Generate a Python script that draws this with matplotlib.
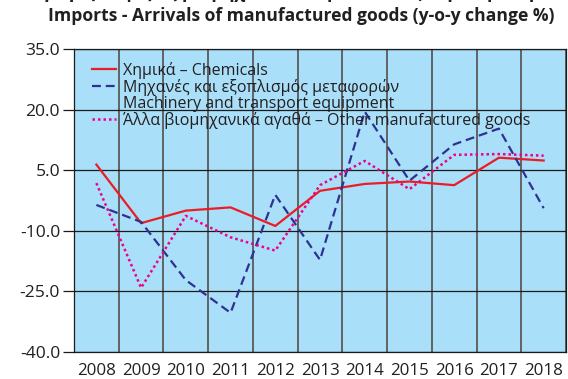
import matplotlib
matplotlib.use("Agg")
import matplotlib.pyplot as plt
from matplotlib.lines import Line2D

plt.rcParams["font.family"] = ["Open Sans", "DejaVu Sans"]

# ── data ───────────────────────────────────────────────────────────────────
years = ["2008", "2009", "2010", "2011", "2012", "2013",
         "2014", "2015", "2016", "2017", "2018"]
chemicals = [6.4, -8.1, -5.0, -4.2, -8.8, -0.1, 1.6, 2.2, 1.3, 8.1, 7.4]
machinery = [-3.6, -7.8, -22.2, -30.3, -1.1, -17.2, 19.5, 2.4, 11.4, 15.3, -4.4]
other_goods = [1.8, -24.1, -6.3, -11.6, -14.9, 1.3, 7.3, 0.3, 8.8, 9.0, 8.6]

y_ticks = [-40.0, -25.0, -10.0, 5.0, 20.0, 35.0]

RED = "#ED1C24"
NAVY = "#2E3192"
MAGENTA = "#EC008C"
BG = "#A9DFF9"
INK = "#231f20"

fig = plt.figure(figsize=(5.68, 3.79), dpi=100)
ax = fig.add_axes([0.1303, 0.0712, 0.8662, 0.7995])
ax.set_facecolor(BG)

x = list(range(len(years)))
ax.plot(x, chemicals, color=RED, lw=1.6, zorder=4)
ax.plot(x, machinery, color=NAVY, lw=1.6, dashes=(4, 2.2), zorder=4)
ax.plot(x, other_goods, color=MAGENTA, lw=1.8, dashes=(1, 1.2), zorder=4)

ax.set_xlim(-0.5, len(years) - 0.5)
ax.set_ylim(-40, 35)

# vertical separators between years
for b in range(len(years) + 1):
    ax.axvline(b - 0.5, color="#5a5a5a", lw=1.3, zorder=1)
for v in y_ticks:
    ax.axhline(v, color="#1a1a1a", lw=0.9, zorder=1)

ax.set_xticks(x)
ax.set_xticklabels(years, fontsize=12.2, color=INK)
ax.tick_params(axis="x", length=0, pad=8)
ax.set_yticks(y_ticks)
ax.set_yticklabels([f"{v:.1f}" for v in y_ticks], fontsize=12.6, color=INK)
ax.tick_params(axis="y", direction="out", length=8, width=0.9,
               color="#1a1a1a", pad=2)

for side in ["top", "right", "left", "bottom"]:
    ax.spines[side].set_color("#1a1a1a")
    ax.spines[side].set_linewidth(0.9)

handles = [
    Line2D([], [], color=RED, lw=1.6),
    Line2D([], [], color=NAVY, lw=1.6, dashes=(4, 2.2)),
    Line2D([], [], color="none"),
    Line2D([], [], color=MAGENTA, lw=1.8, dashes=(1, 1.2)),
]
labels = [
    "Χημικά – Chemicals",
    "Μηχανές και εξοπλισμός μεταφορών",
    "Machinery and transport equipment",
    "Άλλα βιομηχανικά αγαθά – Other manufactured goods",
]
leg = ax.legend(handles, labels, loc="upper left", frameon=False,
                fontsize=11.5, labelspacing=0.0, handlelength=1.5,
                handletextpad=0.45, borderpad=0, borderaxespad=0,
                bbox_to_anchor=(0.036, 0.958))
for t in leg.get_texts():
    t.set_color(INK)

fig.text(0.53, 1 + 2 / 379, "Εισαγωγές - Αφίξεις βιομηχανικών προϊόντων (ετήσια μεταβολή %)",
         ha="center", va="baseline", fontsize=12.6, fontweight="bold", color=INK)
fig.text(0.53, 0.958, "Imports - Arrivals of manufactured goods (y-o-y change %)",
         ha="center", va="center", fontsize=12.6, fontweight="bold", color=INK)

fig.savefig("out.png", dpi=100)
